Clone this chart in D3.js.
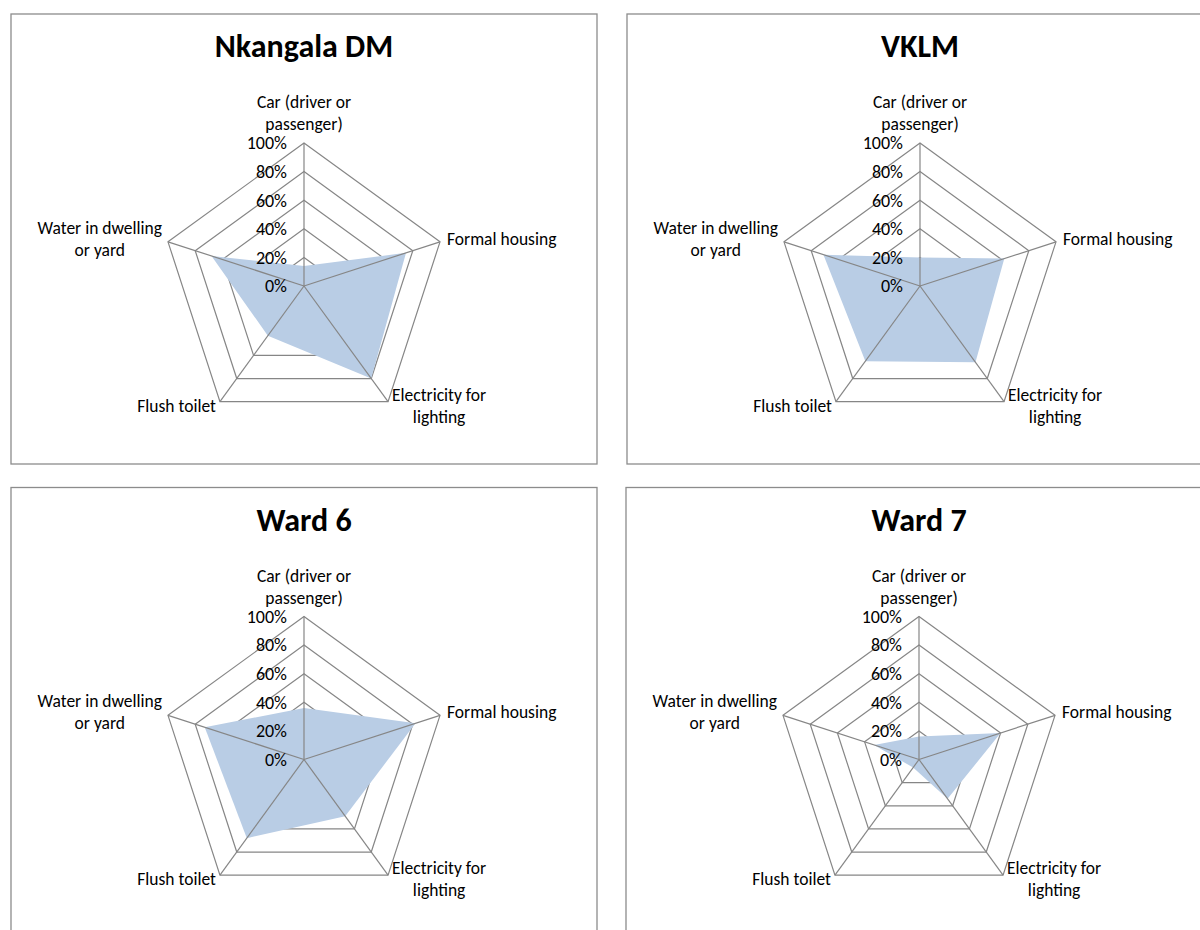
<!DOCTYPE html>
<html><head><meta charset="utf-8">
<script src="https://cdn.jsdelivr.net/npm/d3@7"></script>
<style>
body{margin:0;background:#fff;}
svg{display:block;}
text{font-family:Carlito,Lato,"Liberation Sans",sans-serif;fill:#000;}
</style></head>
<body>
<svg id="chart" width="1200" height="930"></svg>
<script>
const categories = ["Car (driver or passenger)", "Formal housing", "Electricity for lighting", "Flush toilet", "Water in dwelling or yard"];
const categoryLines = [["Car (driver or", "passenger)"], ["Formal housing"], ["Electricity for", "lighting"], ["Flush toilet"], ["Water in dwelling", "or yard"]];
const panelTitles = ["Nkangala DM", "VKLM", "Ward 6", "Ward 7"];
const nkangalaValues = [0.14, 0.75, 0.80, 0.43, 0.68];
const vklmValues = [0.20, 0.62, 0.66, 0.65, 0.71];
const ward6Values = [0.36, 0.82, 0.49, 0.68, 0.73];
const ward7Values = [0.16, 0.60, 0.34, 0.07, 0.33];
const tickValues = [0, 0.2, 0.4, 0.6, 0.8, 1.0];
const tickLabels = ["0%", "20%", "40%", "60%", "80%", "100%"];

const seriesList = [nkangalaValues, vklmValues, ward6Values, ward7Values];
const svg = d3.select("#chart");
const panelW = 586, panelH = 450;
const panelPos = [[11, 14], [627, 14], [11, 487.5], [626, 487.5]];
const R = 143;
const r = d3.scaleLinear().domain([0, 1]).range([0, R]);
const angle = d3.scalePoint().domain(d3.range(categories.length)).range([0, 2 * Math.PI * (categories.length - 1) / categories.length]);
const pt = (i, v) => {
  const a = angle(i) - Math.PI / 2;
  return [r(v) * Math.cos(a), r(v) * Math.sin(a)];
};
const grid = "#868686";
const fs = 17.5;

seriesList.forEach((vals, p) => {
  const [px, py] = panelPos[p];
  const g = svg.append("g").attr("transform", `translate(${px},${py})`);
  g.append("rect").attr("x", 0).attr("y", 0).attr("width", panelW).attr("height", panelH)
    .attr("fill", "#fff").attr("stroke", "#8c8c8c").attr("stroke-width", 1.3);
  g.append("text").attr("x", panelW / 2).attr("y", 43).attr("text-anchor", "middle")
    .attr("font-size", 32).attr("font-weight", "bold").text(panelTitles[p]);
  const c = g.append("g").attr("transform", `translate(293,272)`);
  tickValues.slice(1).forEach(t => {
    c.append("polygon").attr("points", categories.map((_, i) => pt(i, t).join(",")).join(" "))
      .attr("fill", "none").attr("stroke", grid).attr("stroke-width", 1.2);
  });
  c.append("path").datum(vals)
    .attr("d", d3.lineRadial().angle((d, i) => angle(i)).radius(d => r(d)).curve(d3.curveLinearClosed))
    .attr("fill", "#b9cde5").attr("stroke", "none");
  categories.forEach((_, i) => {
    const [x, y] = pt(i, 1);
    c.append("line").attr("x1", 0).attr("y1", 0).attr("x2", x).attr("y2", y)
      .attr("stroke", grid).attr("stroke-width", 1.2);
  });
  tickValues.forEach((t, k) => {
    c.append("text").attr("x", -17).attr("y", -r(t)).attr("dy", "0.35em").attr("text-anchor", "end")
      .attr("font-size", 18).text(tickLabels[k]);
  });
  categoryLines.forEach((lines, i) => {
    const [vx, vy] = pt(i, 1);
    const t = c.append("text").attr("font-size", fs).attr("text-anchor", "middle");
    const spans = lines.map(l => t.append("tspan").text(l));
    const w = d3.max(spans, s => s.node().getComputedTextLength());
    let cx, y0;
    if (i === 0) { cx = vx; y0 = vy - 19 - 22 * (lines.length - 1); }
    else if (i === 1) { cx = vx + 7 + w / 2; y0 = vy - 3; }
    else if (i === 2) { cx = vx + 4 + w / 2; y0 = vy - 7; }
    else if (i === 3) { cx = vx - 4 - w / 2; y0 = vy + 4; }
    else { cx = vx - 6 - w / 2; y0 = vy - 14; }
    spans.forEach((s, k) => s.attr("x", cx).attr("y", y0 + 22 * k).attr("dy", "0.35em"));
  });
});
</script>
</body></html>
